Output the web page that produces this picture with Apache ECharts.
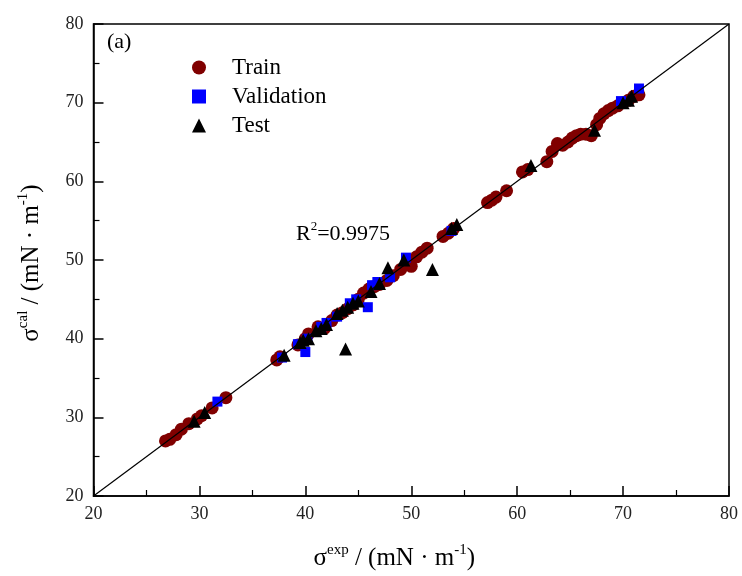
<!DOCTYPE html>
<html>
<head>
<meta charset="utf-8">
<script src="https://cdn.jsdelivr.net/npm/echarts@6/dist/echarts.min.js"></script>
<style>html,body{margin:0;padding:0;background:#fff}#c{width:742px;height:576px}</style>
</head>
<body>
<div id="c"></div>
<script>
const trainData = [
  [26.8,27.0],[27.2,27.2],[27.8,27.8],[28.3,28.5],[29.0,29.2],[29.8,29.8],[30.2,30.2],[31.2,31.2],[32.5,32.5],
  [37.3,37.3],[37.6,37.7],
  [39.3,39.2],[40.0,40.0],[40.3,40.6],[41.2,41.5],[41.8,41.3],[42.5,42.3],[43.0,43.0],[43.5,43.3],[44.0,43.8],
  [44.5,44.3],[45.0,45.0],[45.5,45.8],[46.0,46.3],[46.5,46.6],[47.0,46.9],[47.7,47.4],[48.3,48.0],[49.0,48.8],
  [49.5,49.4],[50.0,49.2],[50.5,50.4],
  [51.0,51.0],[51.5,51.5],[53.0,53.0],[53.5,53.4],[54.0,54.0],
  [57.2,57.3],[57.6,57.6],[58.0,58.0],[59.0,58.8],
  [60.5,61.2],[61.0,61.5],
  [62.8,62.5],[63.3,63.8],[63.8,64.8],[64.3,64.6],[64.8,65.0],[65.2,65.5],[65.6,65.8],[66.0,66.0],[66.5,66.0],[67.0,65.8],
  [67.5,67.2],[67.8,68.0],[68.2,68.6],[68.6,69.0],[69.0,69.3],[69.5,69.6],[70.0,70.0],[70.5,70.3],[71.0,70.8],[71.5,71.0]
];
const validationData = [
  [31.7,32.0],[37.8,37.6],[39.3,39.3],[40.0,38.3],[40.2,40.0],[41.5,41.5],[42.0,42.0],[43.0,42.8],
  [44.2,44.5],[44.8,45.0],[45.9,44.0],[46.3,46.8],[46.8,47.2],[48.0,47.8],[49.5,50.3],[53.8,53.7],
  [69.8,70.2],[71.5,71.8]
];
const testData = [
  [29.5,29.5],[30.5,30.6],[38.0,37.9],[39.5,39.5],[39.8,39.8],[40.3,40.0],[41.0,41.0],[41.5,41.3],[42.0,41.8],
  [43.0,43.2],[43.5,43.6],[43.8,38.7],[44.0,44.0],[44.5,44.5],[45.0,44.8],[46.2,46.0],[47.0,47.0],[47.8,49.0],
  [49.3,50.0],[52.0,48.8],[53.8,54.0],[54.3,54.5],[61.3,62.0],[67.3,66.5],[70.0,70.0],[70.5,70.3],[70.8,70.8]
];
const diagonal = [[20,20],[80,80]];
const axisMin = 20, axisMax = 80, axisStep = 10;

const FONT = 'Liberation Serif';
const chart = echarts.init(document.getElementById('c'));
const nameRich = {
  s: {fontSize: 25, fontFamily: FONT, color: '#000', verticalAlign: 'bottom'},
  sup: {fontSize: 15, fontFamily: FONT, color: '#000', verticalAlign: 'top', padding: [0,0,13,0]}
};
chart.setOption({
  animation: false,
  backgroundColor: '#fff',
  grid: {left: 93.5, right: 13, top: 24, bottom: 80, show: true, borderColor: '#000', borderWidth: 1.5},
  legend: {
    orient: 'vertical', left: 187, top: 51, itemWidth: 14, itemHeight: 14, itemGap: 6,
    data: ['Train', 'Validation', 'Test'],
    textStyle: {fontSize: 23, fontFamily: FONT, color: '#000', lineHeight: 23, padding: [0,0,0,21]}
  },
  xAxis: {
    type: 'value', min: axisMin, max: axisMax, interval: axisStep,
    axisLine: {show: true, lineStyle: {color: '#000', width: 1.5}},
    axisTick: {show: true, inside: true, length: 10, lineStyle: {color: '#000', width: 1.5}},
    minorTick: {show: true, splitNumber: 2, length: 6, lineStyle: {color: '#000', width: 1.2}},
    splitLine: {show: false},
    axisLabel: {fontSize: 18, fontFamily: FONT, color: '#222', margin: 9},
    name: '{s|σ}{sup|exp}{s| / (mN · m}{sup|-1}{s|)}',
    nameLocation: 'middle', nameGap: 47,
    nameTextStyle: {rich: nameRich, padding: [0, 34, 0, 0]}
  },
  yAxis: {
    type: 'value', min: axisMin, max: axisMax, interval: axisStep,
    axisLine: {show: true, lineStyle: {color: '#000', width: 1.5}},
    axisTick: {show: true, inside: true, length: 10, lineStyle: {color: '#000', width: 1.5}},
    minorTick: {show: true, splitNumber: 2, length: 6, lineStyle: {color: '#000', width: 1.2}},
    splitLine: {show: false},
    axisLabel: {fontSize: 18, fontFamily: FONT, color: '#222', margin: 10},
    name: '{s|σ}{sup|cal}{s| / (mN · m}{sup|-1}{s|)}',
    nameLocation: 'middle', nameGap: 50, nameRotate: 90,
    nameTextStyle: {rich: nameRich, padding: [0, 6, 0, 0]}
  },
  graphic: [
    {type: 'text', left: 107, top: 31, style: {text: '(a)', font: '22px "Liberation Serif"', fill: '#000'}},
    {type: 'text', left: 296, top: 220, style: {
      text: '{s|R}{sup|2}{s|=0.9975}',
      rich: {
        s: {fontSize: 22, fontFamily: FONT, fill: '#000', verticalAlign: 'bottom'},
        sup: {fontSize: 13, fontFamily: FONT, fill: '#000', verticalAlign: 'top', padding: [0,0,12,0]}
      }
    }}
  ],
  series: [
    {name: 'Train', type: 'scatter', data: trainData, symbol: 'circle', symbolSize: 13,
     itemStyle: {color: '#800000', opacity: 1}, z: 2},
    {name: 'Validation', type: 'scatter', data: validationData, symbol: 'rect', symbolSize: 10,
     itemStyle: {color: '#0000ff', opacity: 1}, z: 3},
    {name: 'Test', type: 'scatter', data: testData, symbol: 'triangle', symbolSize: 13,
     itemStyle: {color: '#000', opacity: 1}, z: 4},
    {name: 'fit', type: 'line', data: diagonal, symbol: 'none', silent: true,
     lineStyle: {color: '#000', width: 1.2}, z: 5}
  ]
});
</script>
</body>
</html>
